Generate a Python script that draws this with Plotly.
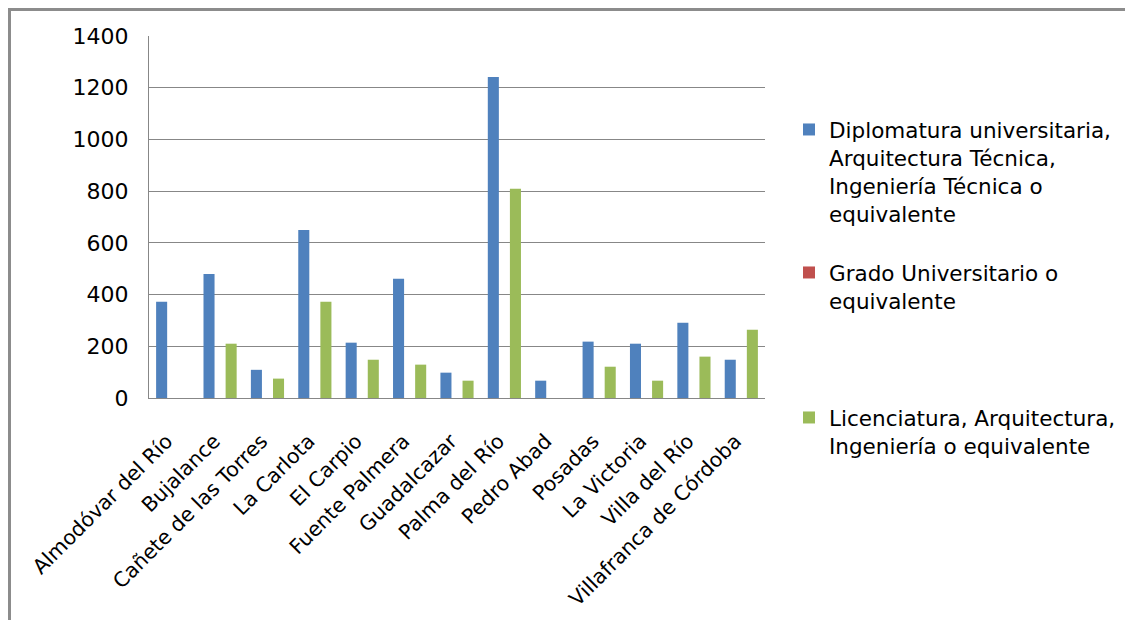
import plotly.graph_objects as go

categories = ["Almodóvar del Río", "Bujalance", "Cañete de las Torres", "La Carlota",
              "El Carpio", "Fuente Palmera", "Guadalcazar", "Palma del Río", "Pedro Abad",
              "Posadas", "La Victoria", "Villa del Río", "Villafranca de Córdoba"]
diplomatura = [372, 480, 109, 650, 214, 461, 98, 1241, 67, 218, 210, 291, 148]
grado = [0, 0, 0, 0, 0, 0, 0, 0, 0, 0, 0, 0, 0]
licenciatura = [0, 210, 75, 372, 148, 129, 67, 809, 0, 121, 67, 160, 264]

names = ["Diplomatura universitaria,<br>Arquitectura Técnica,<br>Ingeniería Técnica o<br>equivalente",
         "Grado Universitario o<br>equivalente",
         "Licenciatura, Arquitectura,<br>Ingeniería o equivalente"]
colors = ["#4F81BD", "#C0504D", "#9BBB59"]
y_ticks = [0, 200, 400, 600, 800, 1000, 1200, 1400]

FONT = "DejaVu Sans"
OFF = 8  # page body margin
W, H = 1117, 612
ML, MR, MT, MB = 141, 360, 28, 222
PW = W - ML - MR
PH = H - MT - MB

def px_x(p):
    return (p - OFF - ML) / PW

def px_y(p):
    return (H - MB - (p - OFF)) / PH

fig = go.Figure()
for vals, nm, col, lg in zip([diplomatura, grado, licenciatura], names, colors,
                             ["legend", "legend2", "legend3"]):
    fig.add_trace(go.Bar(x=categories, y=vals, name=nm, marker_color=col,
                         marker_line_width=0, legend=lg, showlegend=True))

grid = "#878787"
leg_font = dict(family=FONT, size=21.5, color="black")
fig.update_layout(
    width=W, height=H,
    showlegend=True,
    margin=dict(l=ML, r=MR, t=MT, b=MB, autoexpand=False),
    paper_bgcolor="white", plot_bgcolor="white",
    barmode="group", bargap=0.3, bargroupgap=0,
    font=dict(family=FONT, color="black"),
    xaxis=dict(showticklabels=True, ticks="", tickangle=-45, ticklabelstandoff=22,
               ticklabelshift=-6,
               tickfont=dict(family=FONT, size=20.5, color="black"),
               showline=True, linecolor=grid, linewidth=1, showgrid=False,
               zeroline=False),
    yaxis=dict(range=[0, 1400], tickvals=y_ticks, showgrid=True, gridcolor=grid,
               gridwidth=1, showline=True, linecolor=grid, linewidth=1,
               zeroline=False, ticks="", ticklabelstandoff=15,
               tickfont=dict(family=FONT, size=22, color="black")),
    legend=dict(x=px_x(789), y=px_y(109), xanchor="left", yanchor="top",
                valign="top", font=leg_font, bgcolor="rgba(0,0,0,0)", visible=True),
    legend2=dict(x=px_x(789), y=px_y(252), xanchor="left", yanchor="top",
                 valign="top", font=leg_font, bgcolor="rgba(0,0,0,0)"),
    legend3=dict(x=px_x(789), y=px_y(397), xanchor="left", yanchor="top",
                 valign="top", font=leg_font, bgcolor="rgba(0,0,0,0)"),
    shapes=[dict(type="rect", xref="paper", yref="paper",
                 x0=px_x(9.5), x1=px_x(1160), y0=px_y(680), y1=px_y(9.5),
                 line=dict(color="#8C8C8C", width=3), fillcolor="rgba(0,0,0,0)",
                 layer="below")],
)

fig.write_html("out.html")
